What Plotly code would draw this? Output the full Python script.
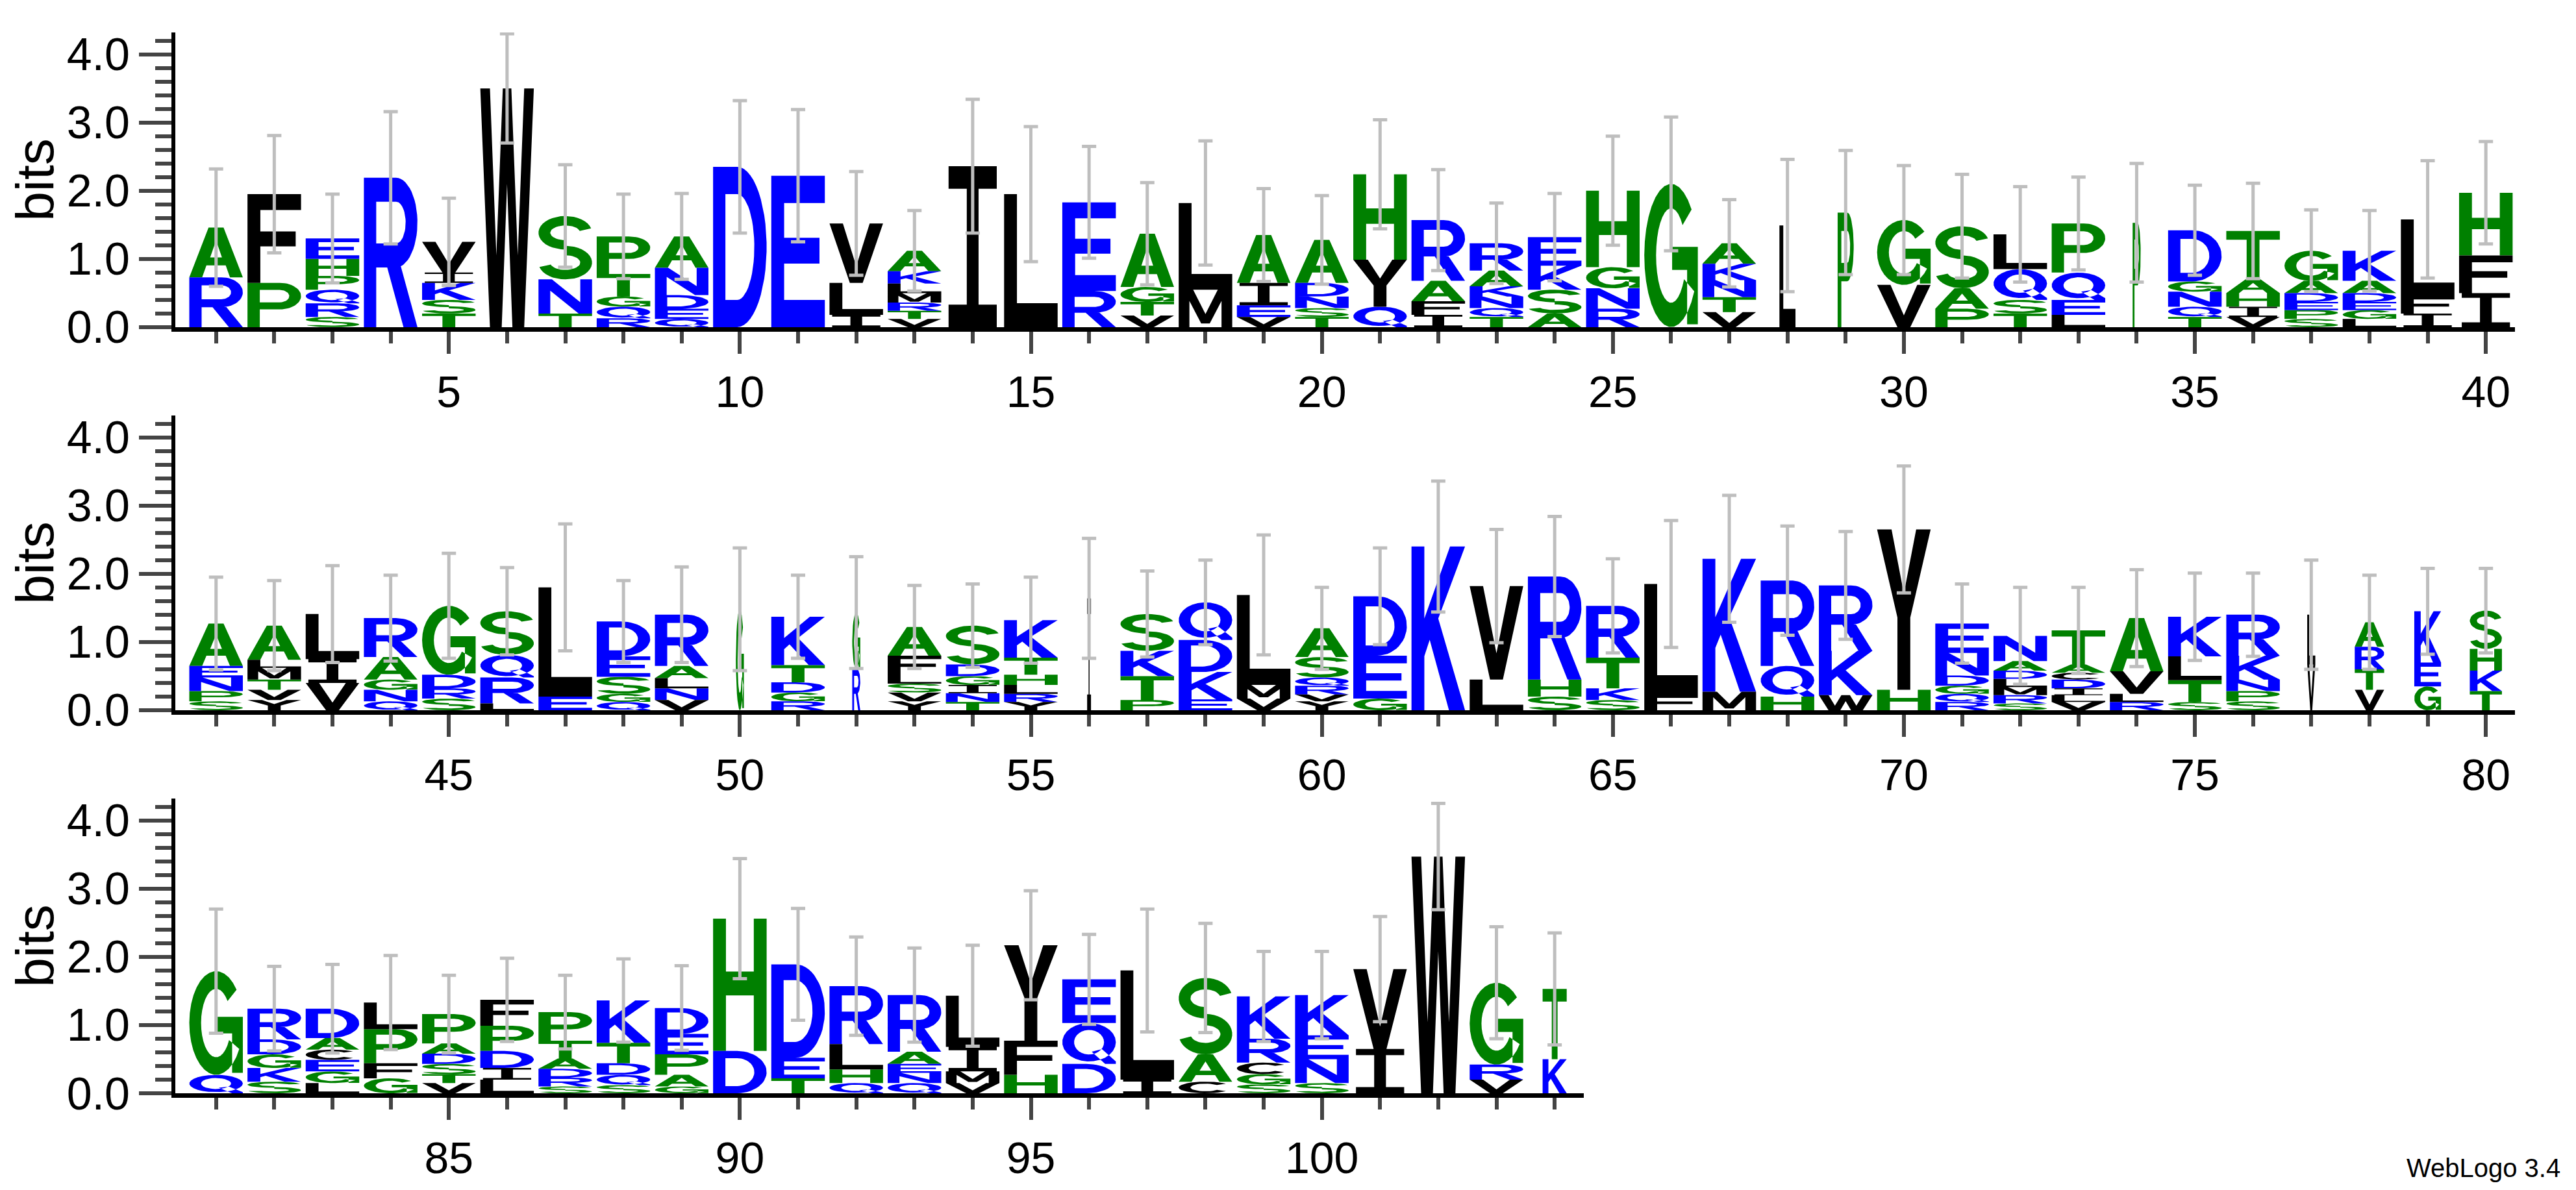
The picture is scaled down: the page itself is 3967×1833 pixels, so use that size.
import numpy as np
import plotly.graph_objects as go

# sequence logo data: letters per position (bottom -> top) and their heights in bits
letters = [
    "RA", "PF", "SRQPHE", "R", "TSKIV", "W", "TNS", "RQGTP", "QEDNA", "D",
    "E", "ILV", "VTRMLKA", "I", "L", "RE", "VTGA", "ML", "VEIA", "TSNDA",
    "QYH", "IFAR", "TQNKAR", "ASKE", "RNGH", "G", "VTNKA", "L", "P", "VG",
    "PAS", "TSQL", "LEQP", "P", "TQNGD", "VIHAT", "SPEDAG", "LGEDAK", "IFL", "IFH",
    "SPNEA", "YVTMLA", "VIL", "QNGAR", "SRDG", "LRQS", "EL", "QGSED", "VNLAR", "G",
    "RGDTK", "RG", "YVSLFA", "TNIGDS", "YRLHTK", "I", "PTKS", "EKDQ", "VML", "YVRQSA",
    "GED", "K", "LV", "SHR", "SKTR", "FL", "MK", "HQR", "WKR", "HY",
    "RQGDNE", "SRMLDAN", "VLIDCAT", "RLVA", "STLK", "SPNKR", "VL", "VTRA", "GEK", "TKHS",
    "QG", "SKGDR", "LGECAD", "GFPL", "VTSDAP", "LIDPF", "SRDATP", "SQDTK", "GAPED", "DH",
    "TED", "QHLR", "QNEAR", "VMIL", "HFY", "DQE", "IL", "CAS", "SGCRK", "SNEK",
    "IV", "W", "VRG", "KT",
]

heights = [
    [.73, .73], [.65, 1.3], [.15, .2, .2, .2, .25, .3], [2.19], [.2, .2, .25, .15, .45],
    [3.5], [.2, .5, .93], [.13, .17, .15, .33, .55], [.12, .15, .2, .4, .46], [2.35],
    [2.22], [.18, .47, .87], [.12, .12, .12, .14, .14, .18, .3], [2.36], [1.95],
    [.53, 1.3], [.17, .2, .22, .78], [.55, 1.27], [.15, .17, .33, .7], [.15, .13, .17, .2, .63],
    [.3, .69, 1.25], [.18, .2, .3, .89], [.15, .13, .17, .15, .23, .4], [.2, .35, .35, .42], [.27, .3, .31, 1.12],
    [2.1], [.22, .22, .25, .24, .3], [1.49], [1.68], [.62, .95],
    [.27, .3, .91], [.2, .2, .45, .51], [.18, .22, .4, .72], [1.53], [.15, .15, .22, .15, .75],
    [.15, .15, .2, .2, .71], [.12, .13, .12, .13, .18, .44], [.12, .13, .12, .13, .18, .44], [.2, .25, 1.13], [.5, .55, .92],
    [.13, .15, .2, .17, .62], [.15, .15, .15, .17, .12, .5], [.4, .35, .66], [.13, .17, .15, .33, .57], [.17, .15, .2, 1.01],
    [.1, .38, .33, .64], [.2, 1.6], [.12, .12, .25, .3, .51], [.15, .17, .15, .18, .75], [1.48],
    [.13, .13, .15, .25, .71], [.6, .83], [.13, .13, .13, .13, .28, .42], [.12, .13, .12, .13, .17, .57], [.12, .12, .13, .15, .25, .55],
    [1.64], [.15, .35, .37, .54], [.16, .4, .47, .55], [.17, .2, 1.32], [.13, .1, .13, .12, .3, .42],
    [.17, .63, .87], [2.4], [.45, 1.37], [.2, .25, 1.51], [.15, .17, .45, .76],
    [.22, 1.63], [.27, 1.95], [.2, .45, 1.25], [.22, .65, .96], [.3, 2.35],
    [.12, .12, .12, .15, .33, .43], [.1, .12, .12, .12, .12, .14, .37], [.12, .1, .1, .13, .1, .12, .5], [.12, .12, .33, .78], [.12, .32, .35, .58],
    [.13, .15, .17, .35, .6], [.67, .73], [.3, .3, .33, .36], [.35, .35, .75], [.28, .3, .32, .56],
    [.27, 1.52], [.17, .2, .2, .22, .45], [.15, .17, .17, .15, .17, .43], [.22, .22, .5, .39], [.15, .13, .15, .15, .15, .43],
    [.2, .17, .25, .37, .38], [.1, .13, .13, .15, .26, .42], [.12, .15, .17, .3, .62], [.1, .17, .3, .3, .38], [.62, 1.94],
    [.22, .3, 1.37], [.15, .2, .37, .85], [.15, .15, .13, .18, .83], [.15, .17, .36, .75], [.27, .5, 1.4],
    [.43, .6, .64], [.2, 1.6], [.17, .4, 1.12], [.13, .15, .17, .35, .62], [.15, .35, .35, .59],
    [.65, 1.17], [3.47], [.2, .22, 1.2], [.5, 1.03],
]

err_top = [
    2.32, 2.81, 1.95, 3.16, 1.89, 4.3, 2.38, 1.95, 1.96, 3.32,
    3.19, 2.28, 1.71, 3.34, 2.94, 2.65, 2.12, 2.73, 2.03, 1.93,
    3.04, 2.31, 1.82, 1.96, 2.8, 3.08, 1.87, 2.46, 2.59, 2.37,
    2.24, 2.06, 2.2, 2.4, 2.08, 2.11, 1.72, 1.71, 2.44, 2.72,
    1.95, 1.9, 2.12, 1.98, 2.3, 2.09, 2.73, 1.9, 2.1, 2.38,
    1.98, 2.25, 1.83, 1.85, 1.95, 2.52, 2.04, 2.2, 2.57, 1.8,
    2.38, 3.36, 2.65, 2.84, 2.22, 2.78, 3.15, 2.7, 2.62, 3.58,
    1.85, 1.8, 1.8, 2.06, 2.01, 2.01, 2.2, 1.98, 2.08, 2.08,
    2.7, 1.86, 1.89, 2.02, 1.73, 1.98, 1.73, 1.97, 1.87, 3.44,
    2.71, 2.29, 2.13, 2.17, 2.97, 2.33, 2.7, 2.49, 2.08, 2.08,
    2.59, 4.25, 2.44, 2.35,
]

# a few columns are drawn with squeezed glyphs in the original
narrow = {28: .3, 29: .3, 34: .15, 50: .15, 52: .15, 56: .08, 77: .15,
          78: .55, 79: .5, 80: .6, 104: .45}

GREEN, BLUE, BLACK = "#008000", "#0000FF", "#000000"
colour_of = {}
for c in "SGHTAP":
    colour_of[c] = GREEN
for c in "RKDENQ":
    colour_of[c] = BLUE
for c in "YVMCLFIW":
    colour_of[c] = BLACK


# ---- block glyphs in a unit box ----
def arc(cx, cy, rx, ry, a0, a1, n=28):
    t = np.radians(np.linspace(a0, a1, n))
    return list(zip(cx + rx * np.cos(t), cy + ry * np.sin(t)))


def ring(cx, cy, rx, ry, a0, a1, tx=0.22, ty=0.17):
    return arc(cx, cy, rx, ry, a0, a1) + arc(cx, cy, rx - tx, ry - ty, a1, a0)


P_OUT = [(0, 0), (0, 1), (0.6, 1)] + arc(0.6, 0.7, 0.4, 0.3, 90, -90) + [(0.6, 0.4), (0.23, 0.4), (0.23, 0)]
P_HOLE = [(0.23, 0.56), (0.23, 0.84), (0.6, 0.84)] + arc(0.6, 0.7, 0.18, 0.14, 90, -90) + [(0.6, 0.56)]

GLYPHS = {
    "A": ([[(0, 0), (0.36, 1), (0.64, 1), (1, 0), (0.76, 0), (0.68, 0.24), (0.32, 0.24), (0.24, 0)]],
          [[(0.39, 0.4), (0.61, 0.4), (0.5, 0.74)]]),
    "C": ([ring(0.5, 0.5, 0.5, 0.5, 40, 320)], []),
    "D": ([[(0, 0), (0, 1), (0.45, 1)] + arc(0.45, 0.5, 0.55, 0.5, 90, -90) + [(0.45, 0)]],
          [[(0.23, 0.17), (0.23, 0.83), (0.45, 0.83)] + arc(0.45, 0.5, 0.32, 0.33, 90, -90) + [(0.45, 0.17)]]),
    "E": ([[(0, 0), (0, 1), (1, 1), (1, 0.82), (0.24, 0.82), (0.24, 0.59), (0.9, 0.59), (0.9, 0.42),
            (0.24, 0.42), (0.24, 0.18), (1, 0.18), (1, 0)]], []),
    "F": ([[(0, 0), (0, 1), (1, 1), (1, 0.82), (0.24, 0.82), (0.24, 0.58), (0.9, 0.58), (0.9, 0.41),
            (0.24, 0.41), (0.24, 0)]], []),
    "G": ([ring(0.5, 0.5, 0.5, 0.5, 40, 330),
           [(0.52, 0.56), (1, 0.56), (1, 0.02), (0.8, 0.02), (0.8, 0.4), (0.52, 0.4)]], []),
    "H": ([[(0, 0), (0, 1), (0.24, 1), (0.24, 0.6), (0.76, 0.6), (0.76, 1), (1, 1), (1, 0), (0.76, 0),
            (0.76, 0.42), (0.24, 0.42), (0.24, 0)]], []),
    "I": ([[(0.05, 0), (0.05, 0.14), (0.39, 0.14), (0.39, 0.86), (0.05, 0.86), (0.05, 1), (0.95, 1),
            (0.95, 0.86), (0.61, 0.86), (0.61, 0.14), (0.95, 0.14), (0.95, 0)]], []),
    "K": ([[(0, 0), (0, 1), (0.24, 1), (0.24, 0.56), (0.72, 1), (1, 1), (0.5, 0.56), (1, 0), (0.7, 0),
            (0.34, 0.43), (0.24, 0.33), (0.24, 0)]], []),
    "L": ([[(0, 0), (0, 1), (0.24, 1), (0.24, 0.18), (1, 0.18), (1, 0)]], []),
    "M": ([[(0, 0), (0, 1), (0.27, 1), (0.5, 0.35), (0.73, 1), (1, 1), (1, 0), (0.8, 0), (0.8, 0.7),
            (0.58, 0.1), (0.42, 0.1), (0.2, 0.7), (0.2, 0)]], []),
    "N": ([[(0, 0), (0, 1), (0.25, 1), (0.78, 0.33), (0.78, 1), (1, 1), (1, 0), (0.75, 0),
            (0.22, 0.67), (0.22, 0)]], []),
    "P": ([P_OUT], [P_HOLE]),
    "Q": ([ring(0.5, 0.53, 0.5, 0.47, 0, 360),
           [(0.55, 0.3), (0.74, 0.36), (1, 0.06), (1, 0), (0.8, 0)]], []),
    "R": ([P_OUT, [(0.42, 0.42), (0.68, 0.42), (1, 0), (0.74, 0)]], [P_HOLE]),
    "S": ([ring(0.5, 0.735, 0.5, 0.265, 15, 270, ty=0.15),
           ring(0.5, 0.265, 0.5, 0.265, 90, -165, ty=0.15)], []),
    "T": ([[(0, 1), (1, 1), (1, 0.82), (0.62, 0.82), (0.62, 0), (0.38, 0), (0.38, 0.82), (0, 0.82)]], []),
    "V": ([[(0, 1), (0.25, 1), (0.5, 0.28), (0.75, 1), (1, 1), (0.62, 0), (0.38, 0)]], []),
    "W": ([[(0, 1), (0.18, 1), (0.3, 0.3), (0.42, 1), (0.58, 1), (0.7, 0.3), (0.82, 1), (1, 1),
            (0.82, 0), (0.6, 0), (0.5, 0.6), (0.4, 0), (0.18, 0)]], []),
    "Y": ([[(0, 1), (0.27, 1), (0.5, 0.6), (0.73, 1), (1, 1), (0.62, 0.45), (0.62, 0), (0.38, 0),
            (0.38, 0.45)]], []),
}

fig = go.Figure()

rows = [(1, 40, "x", "y"), (41, 80, "x2", "y2"), (81, 104, "x3", "y3")]
for first, last, xa, ya in rows:
    polys = {GREEN: ([], []), BLUE: ([], []), BLACK: ([], []), "white": ([], [])}
    ex, ey, ee = [], [], []
    for pos in range(first, last + 1):
        i = pos - 1
        w = 0.92 * narrow.get(pos, 1.0)
        x0 = pos - w / 2
        y0 = 0.0
        for ch, h in zip(letters[i], heights[i]):
            outs, holes = GLYPHS[ch]
            for shapes, key in ((outs, colour_of[ch]), (holes, "white")):
                for poly in shapes:
                    px_, py_ = polys[key]
                    for u, v in poly:
                        px_.append(x0 + u * w)
                        py_.append(y0 + v * h)
                    px_.append(x0 + poly[0][0] * w)
                    py_.append(y0 + poly[0][1] * h)
                    px_.append(None)
                    py_.append(None)
            y0 += h
        ex.append(pos)
        ey.append(y0)
        ee.append(err_top[i] - y0)
    for key in (GREEN, BLUE, BLACK, "white"):
        xs, ys = polys[key]
        fig.add_trace(go.Scatter(x=xs, y=ys, mode="lines", fill="toself", fillcolor=key,
                                 line=dict(width=0, color=key), hoverinfo="skip",
                                 showlegend=False, xaxis=xa, yaxis=ya))
    fig.add_trace(go.Scatter(x=ex, y=ey, mode="markers",
                             marker=dict(size=1, color="rgba(0,0,0,0)"),
                             error_y=dict(type="data", array=ee, symmetric=True,
                                          color="#BEBEBE", thickness=5, width=11),
                             showlegend=False, xaxis=xa, yaxis=ya))

font = "Liberation Sans, Arial, sans-serif"
yax = dict(range=[0, 4.32], tickvals=[0, 1, 2, 3, 4], tickformat=".1f", ticks="outside",
           ticklen=50, tickwidth=6, showline=True, linewidth=6, linecolor="black",
           showgrid=False, zeroline=False, tickfont=dict(size=70, color="black", family=font),
           minor=dict(dtick=0.2, ticklen=25, tickwidth=6, ticks="outside"),
           title=dict(text="bits", font=dict(size=82, family=font, color="black"), standoff=16))
xax = dict(ticks="outside", ticklen=34, tickwidth=6, showline=True, linewidth=7, linecolor="black",
           showgrid=False, zeroline=False, tickfont=dict(size=68, color="black", family=font),
           minor=dict(dtick=1, ticklen=18, tickwidth=6, ticks="outside"))

fig.update_layout(
    width=3967, height=1833,
    margin=dict(l=262, r=102, t=42, b=157),
    paper_bgcolor="white", plot_bgcolor="white",
    xaxis=dict(xax, domain=[0, 1], range=[0.3, 40.5], tickvals=[5, 10, 15, 20, 25, 30, 35, 40], anchor="y"),
    xaxis2=dict(xax, domain=[0, 1], range=[40.3, 80.5], tickvals=[45, 50, 55, 60, 65, 70, 75, 80], anchor="y2"),
    xaxis3=dict(xax, domain=[0, 24.2 / 40.2], range=[80.3, 104.5], tickvals=[85, 90, 95, 100], anchor="y3"),
    yaxis=dict(yax, domain=[0.7222, 1.0], anchor="x"),
    yaxis2=dict(yax, domain=[0.3611, 0.6389], anchor="x2"),
    yaxis3=dict(yax, domain=[0.0, 0.2778], anchor="x3"),
    annotations=[dict(text="WebLogo 3.4", xref="paper", yref="paper", x=1.02, y=-0.085,
                      xanchor="right", yanchor="bottom", showarrow=False,
                      font=dict(size=40, family=font, color="black"))],
)

fig.write_html("out.html")
